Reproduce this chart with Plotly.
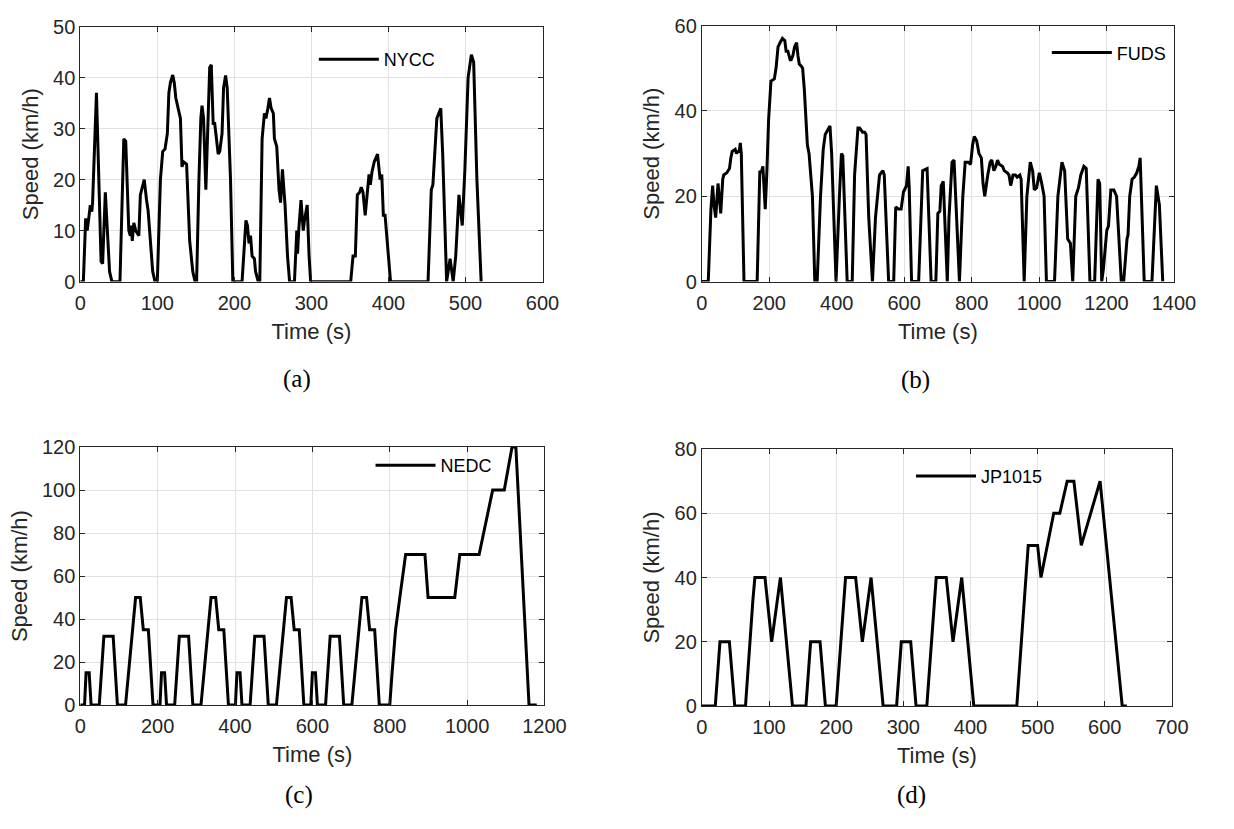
import plotly.graph_objects as go

W, H = 1234, 829

# ---------------- data ----------------
nycc_t = [0, 4, 7, 9, 11, 13, 15, 16, 21, 27, 29, 32.5, 38, 41, 51.5, 56.5, 59, 63, 65, 66, 67.5,
          69.5, 72, 76, 78, 81, 83, 86, 88, 94, 97, 100, 104, 107, 110, 113, 115, 117, 120, 122,
          124, 130, 132, 134, 138, 142, 146, 149, 151, 154, 156.5, 158, 160, 163, 166, 168, 170,
          172.5, 174.5, 177, 179, 181, 184, 186, 188.6, 190.7, 195, 198, 210, 215, 217, 219, 221,
          223, 226, 227.5, 231, 233, 236, 239, 241, 243.5, 245.6, 247.7, 250.6, 252, 255, 258,
          260, 262.4, 265.8, 269, 271.7, 278, 281, 282, 283.5, 286.5, 289.4, 291, 294.5, 297,
          299, 351, 354, 357, 359.6, 362.6, 364.7, 367, 369.8, 372.3, 374.8, 376.5, 378.6, 381.6,
          385.8, 389.2, 391.3, 393.4, 395.6, 402.7, 451.4, 455.6, 457.7, 462.8, 465.3, 467.9,
          470.4, 475.5, 480, 484, 487.3, 489.4, 491.5, 495.8, 499.2, 503.4, 507.6, 510.6, 514.8,
          520.3]
nycc_v = [0, 0, 12.4, 10, 12.4, 15, 13.7, 15.6, 37, 4, 3.5, 17.5, 2, 0, 0, 28, 27.5, 10, 9, 11, 8,
          11.5, 10, 9, 17, 19, 20, 16, 14, 2, 0, 0, 20, 25.5, 26, 29, 37, 39, 40.5, 39, 36, 32,
          22.5, 23.5, 23, 8, 2, 0, 0, 20, 32, 34.5, 32, 18, 35, 42, 42.5, 31, 31, 27, 25, 25.5, 29,
          38, 40.4, 38, 20, 0, 0, 12, 11, 7.5, 9, 5, 4.5, 2, 0, 0, 28, 33, 32, 34, 36, 34, 33, 28,
          26.5, 18, 15.5, 22, 15, 5, 0, 0, 10, 5.5, 10, 16, 10, 12, 15, 5, 0, 0, 5, 5, 17, 17.5,
          18.5, 17.5, 13, 17, 21, 19, 21.5, 23.5, 25, 20, 21, 13, 13, 0, 0, 18, 19, 32, 33, 34,
          25, 0, 4.5, 0, 5, 12, 17, 11, 22, 40, 44.5, 43, 20, 0]

fuds_t = [0, 19, 27, 32, 36, 41, 48, 52, 56, 62, 65, 74, 82, 86, 90, 99, 103, 106, 111, 114, 117,
          125, 164, 172, 176, 181, 185, 188, 193, 198, 205, 215, 220, 226, 232, 239, 246, 250, 255,
          262, 265, 270, 275, 281, 285, 289, 295, 299, 304, 308, 313, 318, 328, 335, 342, 352,
          360, 366, 376, 380, 385, 398, 408, 414, 418, 422, 431, 446, 453, 463, 468, 477, 483,
          487, 495, 506, 515, 527, 537, 541, 554, 569, 575, 583, 591, 598, 607, 612, 615, 622,
          643, 655, 668, 680, 694, 700, 706, 710, 716, 728, 733, 742, 748, 764, 774, 781, 790,
          797, 803, 808, 815, 822, 829, 834, 839, 848, 855, 860, 866, 872, 877, 882, 892, 897,
          906, 911, 916, 923, 930, 935, 943, 947, 956, 964, 974, 981, 986, 993, 1001, 1008, 1015,
          1022, 1046, 1056, 1068, 1076, 1085, 1093, 1100, 1109, 1117, 1124, 1133, 1140, 1151,
          1165, 1175, 1180, 1186, 1191, 1201, 1206, 1213, 1222, 1230, 1244, 1251, 1261, 1264,
          1269, 1276, 1283, 1290, 1296, 1300, 1312, 1335, 1348, 1357, 1367]
fuds_v = [0, 0, 17, 22.5, 18, 15, 23, 19, 16, 24, 25, 25.5, 26.5, 29, 30.5, 31, 30, 30.5, 30.5,
          32.5, 30, 0, 0, 26, 25.5, 27, 22, 17, 26, 38, 47, 47.5, 50, 55, 56, 57, 56.5, 54, 54,
          52, 52, 53, 55, 56, 53, 51, 50.5, 50, 45, 38, 32, 30, 20, 0, 0, 20, 31, 34.5, 36, 36.5,
          30, 0, 20, 30, 29.5, 20, 0, 0, 25, 36, 36, 35, 35, 34.5, 15, 0, 15, 25, 26, 25, 0, 0,
          17.5, 17, 17, 21, 22.5, 27, 22, 0, 0, 26, 26.5, 0, 0, 16, 16.5, 22.5, 23.5, 0, 15, 28,
          28.5, 0, 20, 28, 28, 27.5, 32, 34, 33, 30, 29, 23, 20, 25, 28, 28.5, 26, 27, 28.5,
          27.5, 27, 26, 25.5, 25, 22.5, 25, 25, 24.5, 25, 24, 0, 20, 28, 26, 21.5, 22, 25.5, 23,
          20, 0, 0, 20, 28, 26, 10, 9, 0, 20, 22, 25, 27, 26.5, 0, 0, 24, 23, 0, 3, 12, 13, 21.5,
          21.5, 20, 0, 0, 10, 11, 20, 24, 24.5, 25.5, 27, 29, 0, 0, 22.5, 18, 0]

nedc_t = [0, 11, 15, 23, 28, 49, 61, 85, 96, 117, 143, 155, 163, 176, 188,
          195, 206, 210, 218, 223, 244, 256, 280, 291, 312, 338, 350, 358, 371, 383,
          390, 401, 405, 413, 418, 439, 451, 475, 486, 507, 533, 545, 553, 566, 578,
          585, 596, 600, 608, 613, 634, 646, 670, 681, 702, 728, 740, 748, 761, 773,
          780, 800, 806, 815, 826, 841, 891, 899, 968, 981, 1031, 1066, 1096, 1116, 1126,
          1160, 1180]
nedc_v = [0, 0, 15, 15, 0, 0, 32, 32, 0, 0, 50, 50, 35, 35, 0,
          0, 0, 15, 15, 0, 0, 32, 32, 0, 0, 50, 50, 35, 35, 0,
          0, 0, 15, 15, 0, 0, 32, 32, 0, 0, 50, 50, 35, 35, 0,
          0, 0, 15, 15, 0, 0, 32, 32, 0, 0, 50, 50, 35, 35, 0,
          0, 0, 15, 35, 50, 70, 70, 50, 50, 70, 70, 100, 100, 120, 120,
          0, 0]

jp_t = [0, 20, 27, 41, 49, 65, 76, 77, 79, 94, 104, 117, 135,
        155, 162, 176, 184, 200, 211, 212, 214, 229, 239, 252, 270,
        290, 297, 311, 319, 335, 346, 347, 349, 364, 374, 387, 405,
        469, 486, 500, 505, 524, 533, 544, 554, 565, 593, 626, 633]
jp_v = [0, 0, 20, 20, 0, 0, 33, 35, 40, 40, 20, 40, 0,
        0, 20, 20, 0, 0, 33, 35, 40, 40, 20, 40, 0,
        0, 20, 20, 0, 0, 33, 35, 40, 40, 20, 40, 0,
        0, 50, 50, 40, 60, 60, 70, 70, 50, 70, 0, 0]

names = ["NYCC", "FUDS", "NEDC", "JP1015"]
captions = ["(a)", "(b)", "(c)", "(d)"]
x_ranges = [[0, 600], [0, 1400], [0, 1200], [0, 700]]
x_dticks = [100, 200, 200, 100]
y_ranges = [[0, 50], [0, 60], [0, 120], [0, 80]]
y_dticks = [10, 20, 20, 20]
series_t = [nycc_t, fuds_t, nedc_t, jp_t]
series_v = [nycc_v, fuds_v, nedc_v, jp_v]

# ---------------- layout geometry (pixels) ----------------
boxes = [(76, 549, 16, 278), (712, 1195, 15, 278), (76, 551, 448, 713), (712, 1193, 450, 714)]
legend_pos = [(315, 50), (1065, 43), (373, 467), (926, 478)]   # left edge x, center y
caption_pos = [(298, 378), (931, 379), (300, 805), (927, 805)]

SANS = "Liberation Sans, Arial, Helvetica, sans-serif"
SERIF = "Liberation Serif, Times New Roman, serif"
DARK = "#262626"

fig = go.Figure()
layout = dict(width=W, height=H, margin=dict(l=0, r=0, t=0, b=0),
              paper_bgcolor="white", plot_bgcolor="white", showlegend=True,
              annotations=[])

for i in range(4):
    k = "" if i == 0 else str(i + 1)
    L, R, T, B = boxes[i]
    fig.add_trace(go.Scatter(x=series_t[i], y=series_v[i], mode="lines", name=names[i],
                             line=dict(color="black", width=3),
                             xaxis="x" + k, yaxis="y" + k,
                             legend="legend" + k, showlegend=True))
    common = dict(showline=True, linecolor=DARK, linewidth=1, mirror="allticks",
                  ticks="inside", ticklen=5, tickcolor=DARK, tickwidth=1,
                  showgrid=True, gridcolor="#e1e1e1", gridwidth=1, zeroline=False,
                  tickfont=dict(family=SANS, size=20, color=DARK))
    layout["xaxis" + k] = dict(common, domain=[L / W, R / W], range=x_ranges[i],
                               tick0=0, dtick=x_dticks[i], anchor="y" + k,
                               ticklabelstandoff=3,
                               title=dict(text="Time (s)", standoff=10,
                                          font=dict(family=SANS, size=22, color=DARK)))
    layout["yaxis" + k] = dict(common, domain=[1 - B / H, 1 - T / H], range=y_ranges[i],
                               tick0=0, dtick=y_dticks[i], anchor="x" + k,
                               title=dict(text="Speed (km/h)", standoff=8,
                                          font=dict(family=SANS, size=22, color=DARK)))
    lx, ly = legend_pos[i]
    layout["legend" + k] = dict(x=lx / W, y=1 - ly / H, xanchor="left", yanchor="middle",
                                bgcolor="rgba(0,0,0,0)", borderwidth=0, itemwidth=60,
                                font=dict(family=SANS, size=18, color="black"))
    cx, cy = caption_pos[i]
    layout["annotations"].append(dict(text=captions[i], x=cx / W, y=1 - cy / H,
                                      xref="paper", yref="paper", showarrow=False,
                                      xanchor="center", yanchor="middle",
                                      font=dict(family=SERIF, size=25, color="black")))

fig.update_layout(**layout)
fig.write_html("out.html")
